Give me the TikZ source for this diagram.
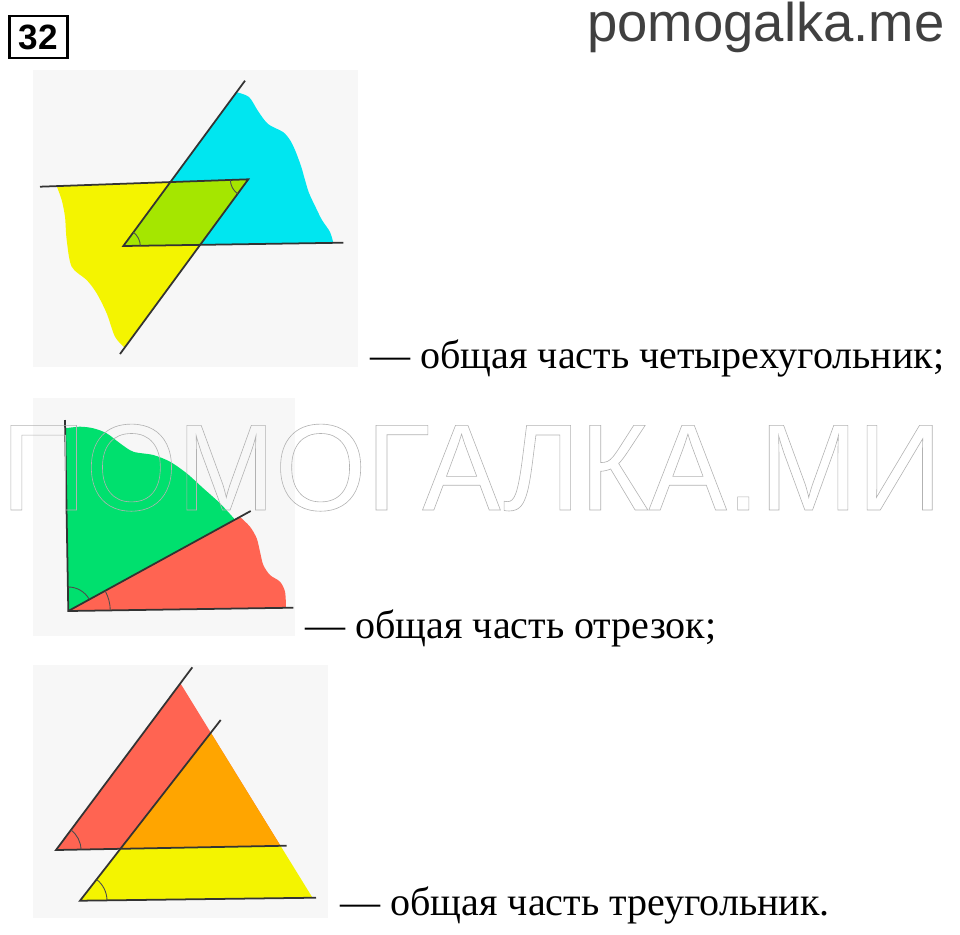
\documentclass[tikz,border=0pt]{standalone}
\usepackage{fontspec}
\setmainfont{Liberation Serif}
\newfontfamily\sitefont{Liberation Sans}
\usepackage{xcolor}
\usetikzlibrary{calc}

\definecolor{panel}{RGB}{247,247,247}
\definecolor{yellowA}{RGB}{244,244,0}
\definecolor{cyanA}{RGB}{0,230,240}
\definecolor{limeA}{RGB}{165,230,0}
\definecolor{greenB}{RGB}{0,224,110}
\definecolor{redB}{RGB}{255,100,82}
\definecolor{orangeC}{RGB}{255,165,0}

\tikzset{
  edge/.style={draw=black!80, line width=1pt},
  anglemark/.style={draw=black!70, line width=0.5pt},
  caption/.style={anchor=base west, inner sep=0pt, font=\fontsize{22.8}{26}\selectfont}
}

\begin{document}
\begin{tikzpicture}[x=0.02cm,y=-0.02cm]
\useasboundingbox (0,0) rectangle (960,934);

% Draw header.
\node[draw, line width=1.6pt, minimum width=33pt, minimum height=24pt, inner sep=0pt,
  font=\sitefont\bfseries\fontsize{20}{20}\selectfont] (num) at (38.5,37) {32};
\node[anchor=base east, inner sep=0pt, text=black!75,
  font=\sitefont\fontsize{31}{31}\selectfont] (site) at (945,41) {pomogalka.me};

% Draw panels.
\fill[panel] (33,70) rectangle (358,367);
\fill[panel] (33,398) rectangle (295,636);
\fill[panel] (33,665) rectangle (328,918);

% First picture: two angles.
\coordinate (V1) at (248.3,179.3);
\coordinate (V2) at (123.3,246);
\coordinate (T1) at (40,186.7);
\coordinate (A1) at (245,80.7);
\coordinate (B1) at (120,354);
\coordinate (H1) at (343.3,242.7);
\coordinate (P1) at (intersection of V2--A1 and T1--V1);
\coordinate (P2) at (intersection of V1--B1 and V2--H1);

\fill[yellowA] (V1) -- plot[smooth] coordinates {(56.7,186.1) (61.7,200) (65,216.7)
  (66.7,240) (71.7,266.7) (86.7,280) (96.7,293.3) (106.7,313.3) (115,336.7) (124.5,347.5)} -- cycle;
\fill[cyanA] (V2) -- plot[smooth] coordinates {(333.3,242.8) (330,232) (322,220) (316,208)
  (309,193) (305,180) (301,166) (295,150) (290,140) (283,132) (268,124) (258,111)
  (249,97) (236.5,92.2)} -- cycle;
\fill[limeA] (P1) -- (V1) -- (P2) -- (V2) -- cycle;

\draw[edge] (T1) -- (V1) -- (B1);
\draw[edge] (A1) -- (V2) -- (H1);
\draw[anglemark] ($(V2)+(-0.9:17)$) arc[start angle=-0.9, end angle=-53.6, radius=17];
\draw[anglemark] ($(V1)+(126.3:18)$) arc[start angle=126.3, end angle=178, radius=18];

% Second picture: angle and ray.
\coordinate (O) at (68.3,611);
\coordinate (U) at (65,420);
\coordinate (R) at (293.3,607.7);
\coordinate (D) at (250.7,511);

\fill[greenB] (O) -- plot[smooth] coordinates {(65.1,428.3) (80,426.7) (93.3,428.3)
  (106.7,433.3) (120,443.3) (133.3,451.7) (153.3,455) (170,461.7) (186.7,473.3)
  (203.3,488.3) (220,503.3) (235,519.6)} -- cycle;
\fill[redB] (O) -- plot[smooth] coordinates {(240,516.9) (250,526.7) (256.7,538.3)
  (260,551.7) (263.3,565) (270,575) (280,581.7) (285,591.7) (286,607.8)} -- cycle;

\draw[edge] (U) -- (O) -- (R);
\draw[edge] (O) -- (D);
\draw[anglemark] ($(O)+(-91:24)$) arc[start angle=-91, end angle=-28.7, radius=24];
\draw[anglemark] ($(O)+(-28.7:42)$) arc[start angle=-28.7, end angle=-0.8, radius=42];

% Third picture: two triangles.
\coordinate (L1t) at (192.3,667.3);
\coordinate (L1b) at (56,850);
\coordinate (L2t) at (220.7,720);
\coordinate (L2b) at (80,900.7);
\coordinate (H1r) at (286.7,845.7);
\coordinate (H2r) at (316,897.7);
\coordinate (Ra) at (180.4,683.3);
\coordinate (Rb) at (312.5,897.7);
\coordinate (Y0) at (intersection of Ra--Rb and L2t--L2b);
\coordinate (Q1) at (intersection of Ra--Rb and L1b--H1r);
\coordinate (Q2) at (intersection of L2t--L2b and L1b--H1r);

\fill[redB] (L1b) -- (Ra) -- (Q1) -- cycle;
\fill[orangeC] (Y0) -- (Q1) -- (Q2) -- cycle;
\fill[yellowA] (Q2) -- (Q1) -- (Rb) -- (L2b) -- cycle;

\draw[edge] (L1t) -- (L1b) -- (H1r);
\draw[edge] (L2t) -- (L2b) -- (H2r);
\draw[anglemark] ($(L1b)+(-53.3:25)$) arc[start angle=-53.3, end angle=-1.1, radius=25];
\draw[anglemark] ($(L2b)+(-52.1:27)$) arc[start angle=-52.1, end angle=-0.7, radius=27];

% Captions.
\node[caption] (cap1) at (370,368) {— общая часть четырехугольник;};
\node[caption] (cap2) at (305,638) {— общая часть отрезок;};
\node[caption] (cap3) at (340,915) {— общая часть треугольник.};

% Watermark.
\node[anchor=base west, inner sep=0pt, xscale=0.955, text=black!30,
  font=\sitefont\fontsize{70}{70}\selectfont] (mark) at (1,510)
  {\special{pdf:literal 1 Tr 0.35 w}ПОМОГАЛКА.МИ\special{pdf:literal 0 Tr}};
\end{tikzpicture}
\end{document}
